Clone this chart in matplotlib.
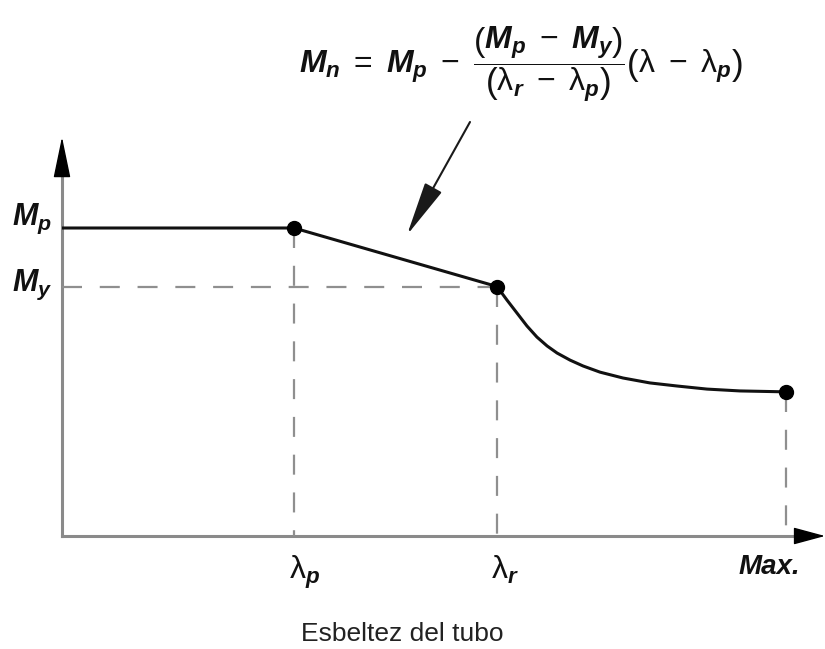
import matplotlib
matplotlib.use("Agg")
import matplotlib.pyplot as plt

# Resistencia nominal a flexión en función de la esbeltez del tubo (valores normalizados)
lam_p = 1.0
lam_r = 1.875
lam_max = 3.12
M_p = 1.0
M_y = 0.81

# tramo plástico e inelástico
lin_lam = [0.0, lam_p, lam_r]
lin_M = [M_p, M_p, M_y]

# tramo elástico
curve_lam = [1.875, 1.918, 1.961, 2.004, 2.047, 2.091, 2.134, 2.190, 2.246, 2.319,
             2.418, 2.534, 2.651, 2.780, 2.922, 3.12]
curve_M = [0.81, 0.766, 0.724, 0.682, 0.646, 0.617, 0.594, 0.571, 0.552, 0.532,
           0.513, 0.497, 0.487, 0.477, 0.471, 0.468]

pts_lam = [lam_p, lam_r, lam_max]
pts_M = [M_p, M_y, curve_M[-1]]

xtick_labels = [r"$\mathrm{\lambda}_p$", r"$\mathrm{\lambda}_r$", "Max."]
ytick_labels = [r"$M_p$", r"$M_y$"]
formula = (r"$M_n\;=\;M_p\;-\;\dfrac{\left(M_p\;-\;M_y\right)}{\left(\mathrm{\lambda}_r\;-\;\mathrm{\lambda}_p\right)}"
           r"\left(\mathrm{\lambda}\;-\;\mathrm{\lambda}_p\right)$")
xlabel = "Esbeltez del tubo"

plt.rcParams["font.family"] = "Liberation Sans"
plt.rcParams["mathtext.fontset"] = "custom"
plt.rcParams["mathtext.rm"] = "Liberation Sans"
plt.rcParams["mathtext.it"] = "Liberation Sans:italic:bold"
plt.rcParams["mathtext.bf"] = "Liberation Sans:bold"

W, H = 825, 649
fig = plt.figure(figsize=(W / 100, H / 100), dpi=100)
# ejes: origen en (62, 536) px, flecha vertical hasta 137 px, horizontal hasta el borde
ax = fig.add_axes([62 / W, (H - 536) / H, (W - 62) / W, (536 - 137) / H])
ax.set_xlim(0, (W - 62) / 232)
ax.set_ylim(0, (536 - 137) / 308)
ax.axis("off")

axis_col = "#8a8a8a"
dash_col = "#8f8f8f"
ink = "#111111"

# ejes con flecha
ax.plot([0, 0], [0, 0.93], color=axis_col, lw=2.2, transform=ax.transAxes, clip_on=False, zorder=1)
ax.plot([0, 0.97], [0, 0], color=axis_col, lw=2.2, transform=ax.transAxes, clip_on=False, zorder=1)
ax.annotate("", xy=(0, 1.0), xytext=(0, 0.91), xycoords="axes fraction",
            arrowprops=dict(arrowstyle="-|>,head_length=1.3,head_width=0.27", mutation_scale=20,
                            color="black", lw=1, shrinkA=0, shrinkB=0), annotation_clip=False)
ax.annotate("", xy=(1.0, 0), xytext=(0.962, 0), xycoords="axes fraction",
            arrowprops=dict(arrowstyle="-|>,head_length=1.0,head_width=0.27", mutation_scale=20,
                            color="black", lw=1, shrinkA=0, shrinkB=0), annotation_clip=False)

# líneas de referencia discontinuas
for x, y in zip(pts_lam, pts_M):
    ax.plot([x, x], [y, 0], color=dash_col, lw=1.6, dashes=(9, 8), zorder=2)
ax.plot([0, lam_r], [M_y, M_y], color=dash_col, lw=1.6, dashes=(9, 8), zorder=2)

# curva de resistencia
ax.plot(lin_lam, lin_M, color=ink, lw=2.2, solid_capstyle="round", zorder=3)
ax.plot(curve_lam, curve_M, color=ink, lw=2.2, solid_capstyle="round",
        solid_joinstyle="round", zorder=3)
ax.plot(pts_lam, pts_M, "o", color="black", ms=10, zorder=4)

# etiquetas de los ejes
for x, lab, dx, fs in zip(pts_lam, xtick_labels, [11, 8, -17], [23, 23, 20]):
    style = "italic" if lab == "Max." else "normal"
    ax.annotate(lab, xy=(x, 0), xytext=(dx * 0.72, -13), textcoords="offset points",
                ha="center", va="top", fontsize=fs, fontweight="bold", fontstyle=style, color=ink)
for y, lab, dy in zip([M_p, M_y], ytick_labels, [2, -3]):
    ax.annotate(lab, xy=(0, y), xytext=(-7, dy), textcoords="offset points",
                ha="right", va="baseline", fontsize=22, color=ink)

fig.text(402 / W, 1 - 634 / H, xlabel, ha="center", va="center", fontsize=19, color="#222222")

# expresión del tramo inelástico con flecha
fig.text(521 / W, 1 - 64 / H, formula, ha="center", va="center", fontsize=23, color=ink)
ax.annotate("", xy=((407 - 62) / 232, (536 - 235) / 308), xytext=((470 - 62) / 232, (536 - 122) / 308),
            arrowprops=dict(arrowstyle="-|>,head_length=1.7,head_width=0.3", mutation_scale=20,
                            color="#1a1a1a", lw=1.5, shrinkA=0, shrinkB=0), annotation_clip=False)

fig.savefig("out.png", dpi=100)
